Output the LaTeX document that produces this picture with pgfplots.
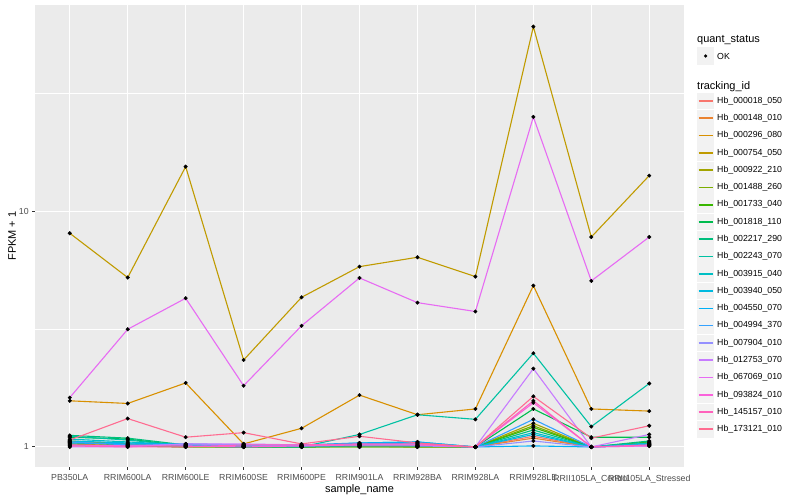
\documentclass[border=0pt]{standalone}
\usepackage{fontspec}
\setmainfont{Liberation Sans}
\usepackage{pgfplots}
\pgfplotsset{compat=1.18}
\usepackage{pgfplotstable}

\definecolor{bg}{HTML}{EBEBEB}
\definecolor{keyg}{HTML}{F2F2F2}
\definecolor{tickc}{HTML}{333333}
\definecolor{labc}{HTML}{4D4D4D}
% ggplot hue palette, 20 levels
\definecolor{c1}{HTML}{F8766D}
\definecolor{c2}{HTML}{EA8331}
\definecolor{c3}{HTML}{D89000}
\definecolor{c4}{HTML}{C09B00}
\definecolor{c5}{HTML}{A3A500}
\definecolor{c6}{HTML}{7CAE00}
\definecolor{c7}{HTML}{39B600}
\definecolor{c8}{HTML}{00BB4E}
\definecolor{c9}{HTML}{00BF7D}
\definecolor{c10}{HTML}{00C1A3}
\definecolor{c11}{HTML}{00BFC4}
\definecolor{c12}{HTML}{00BAE0}
\definecolor{c13}{HTML}{00B0F6}
\definecolor{c14}{HTML}{35A2FF}
\definecolor{c15}{HTML}{9590FF}
\definecolor{c16}{HTML}{C77CFF}
\definecolor{c17}{HTML}{E76BF3}
\definecolor{c18}{HTML}{FA62DB}
\definecolor{c19}{HTML}{FF62BC}
\definecolor{c20}{HTML}{FF6C91}

% FPKM + 1 per sample (rows) and tracking_id (columns)
\pgfplotstableread{
x  s1   s2   s3   s4   s5   s6   s7   s8   s9   s10  s11  s12  s13  s14  s15  s16  s17  s18  s19  s20
0  1.05 1.03 1.57 8.08 1.06 1.04 1.02 1.10 1.12 1.11 1.08 1.06 1.04 1.05 1.01 1.00 1.62 1.02 1.01 1.07
1  1.02 1.01 1.53 5.24 1.03 1.02 1.01 1.08 1.09 1.07 1.05 1.04 1.03 1.02 1.01 1.00 3.16 1.01 1.00 1.32
2  1.01 1.00 1.87 15.5 1.01 1.00 1.00 1.01 1.02 1.01 1.02 1.02 1.03 1.02 1.03 1.03 4.28 1.01 1.00 1.10
3  1.00 1.00 1.03 2.34 1.00 1.00 1.00 1.00 1.01 1.00 1.01 1.01 1.02 1.01 1.02 1.03 1.82 1.00 1.02 1.15
4  1.01 1.00 1.20 4.32 1.00 1.00 1.00 1.00 1.00 1.00 1.01 1.01 1.02 1.01 1.01 1.02 3.27 1.01 1.02 1.03
5  1.02 1.01 1.66 5.83 1.01 1.00 1.00 1.01 1.02 1.13 1.03 1.04 1.04 1.03 1.01 1.02 5.22 1.02 1.03 1.11
6  1.01 1.00 1.37 6.39 1.00 1.00 1.00 1.01 1.01 1.37 1.04 1.05 1.05 1.03 1.01 1.02 4.10 1.02 1.03 1.04
7  1.00 1.00 1.45 5.29 1.00 1.00 1.00 1.00 1.00 1.31 1.00 1.00 1.00 1.00 1.00 1.00 3.76 1.00 1.00 1.00
8  1.11 1.09 4.84 60.9 1.26 1.23 1.21 1.45 1.18 2.50 1.15 1.13 1.01 1.31 1.06 2.15 25.2 1.54 1.57 1.64
9  1.00 1.00 1.45 7.79 1.00 1.00 1.00 1.10 1.00 1.22 1.00 1.00 1.00 1.00 1.00 1.00 5.07 1.00 1.00 1.09
10 1.03 1.02 1.42 14.2 1.04 1.03 1.05 1.10 1.06 1.86 1.04 1.03 1.02 1.02 1.01 1.13 7.79 1.01 1.02 1.23
}\data

\begin{document}
\begin{tikzpicture}[x=1bp,y=1bp]
\useasboundingbox (0,0) rectangle (800,500);
\fill[white] (0,0) rectangle (800,500);
\begin{axis}[
  at={(35bp,33bp)}, anchor=south west,
  scale only axis, width=649bp, height=462bp,
  ymode=log, ymin=0.822, ymax=75.3,
  xmin=-0.6, xmax=10.6,
  xtick={0,1,...,10},
  xticklabels={PB350LA,RRIM600LA,RRIM600LE,RRIM600SE,RRIM600PE,RRIM901LA,RRIM928BA,RRIM928LA,RRIM928LE,RRII105LA\_Control,RRII105LA\_Stressed},
  ytick={1,10}, yticklabels={1,10},
  minor ytick={3.1623,31.623},
  grid=both,
  major grid style={white, line width=1.1bp},
  minor grid style={white, line width=0.55bp},
  axis background/.style={fill=bg},
  axis line style={draw=none},
  tick align=outside, xtick pos=bottom, ytick pos=left,
  major tick length=2.75bp, minor tick length=0pt,
  tick style={color=tickc, line width=1bp},
  ticklabel style={font=\fontsize{8.8}{10}\selectfont, text=labc},
  xticklabel style={yshift=-1.5bp},
  /pgf/number format/assume math mode=true,
  xlabel={sample\_name}, ylabel={FPKM + 1},
  label style={font=\fontsize{11}{13}\selectfont},
  xlabel style={at={(axis description cs:0.5,-0.0498)}, anchor=center},
  ylabel style={at={(axis description cs:-0.0354,0.5)}, anchor=center},
  clip=false,
]
\pgfplotsinvokeforeach{1,...,20}{
  \addplot[color=c#1, line width=1.1bp, no markers] table[x=x, y=s#1] {\data};
}
\pgfplotsinvokeforeach{1,...,20}{
  \addplot[only marks, mark=*, mark size=1.8bp, black] table[x=x, y=s#1] {\data};
}
\end{axis}

% legend
\node[anchor=west, inner sep=0, font=\fontsize{11}{13}\selectfont] at (697,460) {quant\_status};
\fill[keyg] (697,435.4) rectangle (714.3,452.6);
\fill[black] (705.6,444) circle (1.8);
\node[anchor=west, inner sep=0, font=\fontsize{8.8}{10}\selectfont] at (717,444) {OK};
\node[anchor=west, inner sep=0, font=\fontsize{11}{13}\selectfont] at (697,413) {tracking\_id};
\foreach \n [count=\i] in {000018\_050,000148\_010,000296\_080,000754\_050,000922\_210,001488\_260,001733\_040,001818\_110,002217\_290,002243\_070,003915\_040,003940\_050,004550\_070,004994\_370,007904\_010,012753\_070,067069\_010,093824\_010,145157\_010,173121\_010}{
  \pgfmathsetmacro\yy{399-17.28*(\i-1)}
  \fill[keyg] (697,\yy-8.4) rectangle (714.3,\yy+8.4);
  \draw[draw=c\i, line width=1.7bp] (698.7,\yy) -- (712.6,\yy);
  \node[anchor=west, inner sep=0, font=\fontsize{8.8}{10}\selectfont] at (717,\yy) {Hb\_\n};
}
\end{tikzpicture}
\end{document}
